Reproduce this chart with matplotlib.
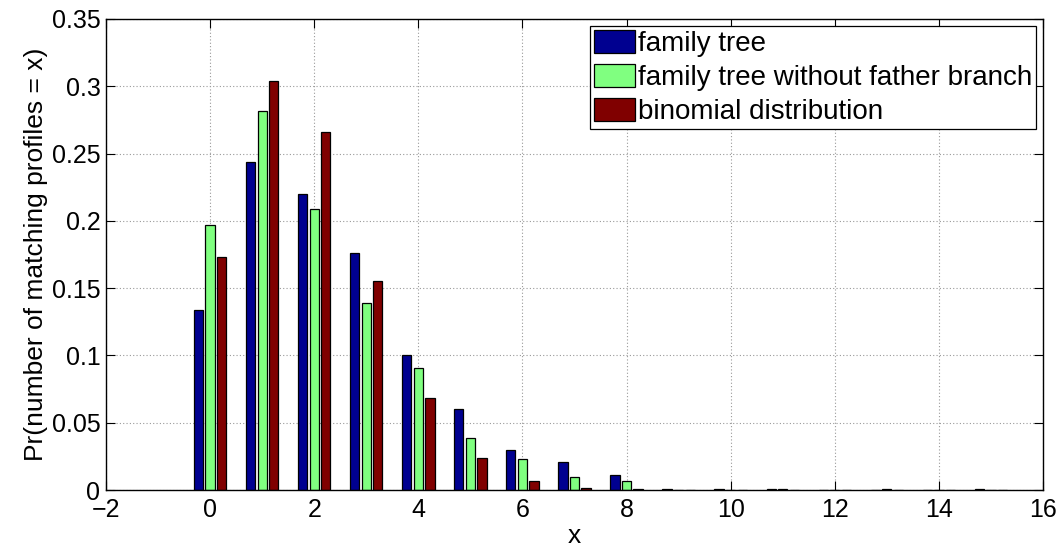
import numpy as np
import matplotlib
matplotlib.use("Agg")
import matplotlib.pyplot as plt

# Number of matching profiles
x_vals = np.arange(0, 16)

family_tree = [0.134, 0.244, 0.220, 0.176, 0.100, 0.060, 0.030, 0.021, 0.011,
               0.0007, 0.0008, 0.0006, 0.0003, 0.0002, 0.0001, 0.0009]
no_father = [0.197, 0.282, 0.209, 0.139, 0.091, 0.039, 0.023, 0.010, 0.007,
             0.0003, 0.0003, 0.0006, 0.0001, 0.0006, 0.0001, 0.0000]
binomial = [0.173, 0.304, 0.266, 0.155, 0.068, 0.0235, 0.007, 0.0017, 0.0005,
            0.0001, 0.0000, 0.0000, 0.0000, 0.0000, 0.0000, 0.0000]

series = [family_tree, no_father, binomial]
labels = ["family tree", "family tree without father branch", "binomial distribution"]
colors = ["#000090", "#80FF80", "#800000"]

x_ticks = [-2, 0, 2, 4, 6, 8, 10, 12, 14, 16]
y_ticks = [0, 0.05, 0.1, 0.15, 0.2, 0.25, 0.3, 0.35]
y_ticklabels = ["0", "0.05", "0.1", "0.15", "0.2", "0.25", "0.3", "0.35"]

plt.rcParams['font.family'] = ['Liberation Sans', 'DejaVu Sans']

fig = plt.figure(figsize=(10.63, 5.52), dpi=100)
ax = fig.add_axes([0.0997, 0.1123, 0.8815, 0.8533])

group_width = 2.0 / 3.0
step = group_width / len(series)
bar_w = step * 0.8
for i, (vals, lab, col) in enumerate(zip(series, labels, colors)):
    offset = (i - (len(series) - 1) / 2) * step
    ax.bar(x_vals + offset, vals, width=bar_w, color=col, edgecolor="black",
           linewidth=0.9, label=lab, zorder=3)

ax.set_xlim(-2, 16)
ax.set_ylim(0, 0.35)
ax.set_xticks(x_ticks)
ax.set_yticks(y_ticks)
ax.set_yticklabels(y_ticklabels)
ax.tick_params(direction="in", top=True, right=True, labelsize=18, length=6.5,
               width=0.8)
ax.tick_params(axis="x", pad=6)
ax.tick_params(axis="y", pad=4)
ax.grid(True, linestyle=(0, (1, 2)), color="#999999", linewidth=0.8, zorder=0)
for sp in ax.spines.values():
    sp.set_linewidth(1.0)
    sp.set_zorder(4)

ax.set_xlabel("x", fontsize=19, labelpad=1)
ax.set_ylabel("Pr(number of matching profiles = x)", fontsize=19, labelpad=3)

leg = ax.legend(loc="upper right", fontsize=20, frameon=True, fancybox=False,
                edgecolor="black", framealpha=1, handlelength=1.47,
                handleheight=0.9, handletextpad=0.1, borderpad=0.15,
                labelspacing=0.25, borderaxespad=0.25)
leg.get_frame().set_linewidth(0.9)

fig.savefig("out.png", dpi=100)
